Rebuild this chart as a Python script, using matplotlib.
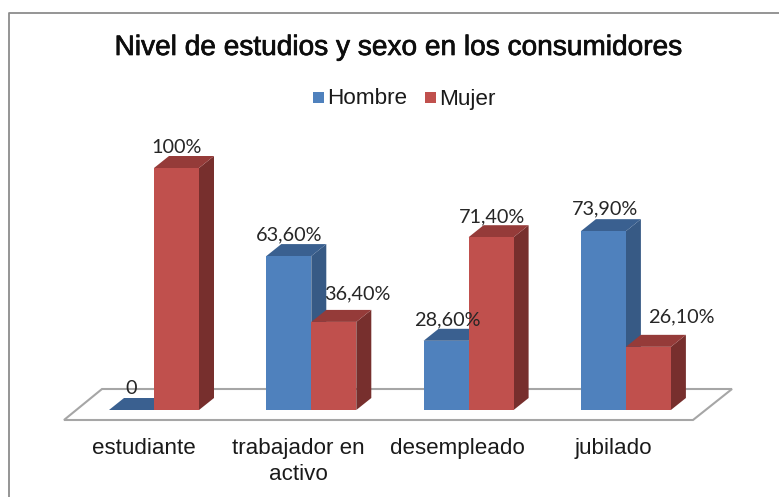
import matplotlib
matplotlib.use('Agg')
import matplotlib.pyplot as plt
import matplotlib.patheffects as pe
from matplotlib.patches import Polygon, Rectangle

# Values
categories = ['estudiante', 'trabajador en\nactivo', 'desempleado', 'jubilado']
hombre = [0, 63.6, 28.6, 73.9]
mujer = [100, 36.4, 71.4, 26.1]
hombre_labels = ['0', '63,60%', '28,60%', '73,90%']
mujer_labels = ['100%', '36,40%', '71,40%', '26,10%']
title = 'Nivel de estudios y sexo en los consumidores'

W, H = 779, 497
PX_X = 157.3   # pixels per category
PX_Y = 2.42    # pixels per percent
X0, Y0 = 154, 410

fig = plt.figure(figsize=(W / 100, H / 100), dpi=100)
ax = fig.add_axes([0, 0, 1, 1])
ax.set_xlim(-X0 / PX_X, (W - X0) / PX_X)
ax.set_ylim((Y0 - H) / PX_Y, Y0 / PX_Y)
ax.axis('off')

# helpers to go from pixel offsets to data units
def dx(px):
    return px / PX_X

def dy(px):
    return px / PX_Y

bar_w = dx(45)
depth_x = dx(15)
depth_y = dy(12)

# chart border, only left and top are inside the picture
fig.add_artist(plt.Line2D([8.5 / W, 8.5 / W, 1], [0, 1 - 12.5 / H, 1 - 12.5 / H],
                          color='#8c8c8c', lw=1.3))

# floor
floor = Polygon([(-X0 / PX_X + dx(64), dy(-10)), (-X0 / PX_X + dx(102), dy(21)),
                 (-X0 / PX_X + dx(732), dy(21)), (-X0 / PX_X + dx(693), dy(-10))],
                closed=True, fc='white', ec='#a6a6a6', lw=1.5, zorder=1)
ax.add_patch(floor)


def bar3d(x, val, front, top, side, z):
    ax.add_patch(Polygon([(x + bar_w, 0), (x + bar_w + depth_x, depth_y),
                          (x + bar_w + depth_x, val + depth_y), (x + bar_w, val)],
                         closed=True, fc=side, ec='none', zorder=z))
    ax.add_patch(Polygon([(x, val), (x + depth_x, val + depth_y),
                          (x + bar_w + depth_x, val + depth_y), (x + bar_w, val)],
                         closed=True, fc=top, ec='none', zorder=z))
    ax.add_patch(Rectangle((x, 0), bar_w, val, fc=front, ec='none', zorder=z + 0.1))


for i in range(len(categories)):
    bar3d(i - bar_w, hombre[i], '#4f81bd', '#3a6090', '#375a85', 2 + i)
    bar3d(i, mujer[i], '#c0504d', '#953b39', '#772f2d', 2.5 + i)

label_font = ['Lato', 'DejaVu Sans']
lab_kw = dict(fontsize=14.3, color='#262626', family=label_font, ha='center',
              va='bottom', zorder=10)
hombre_off = [(-23, 13), (-22, 13), (-21, 12), (-21, 14)]
mujer_off = [(23, 12), (46, 20), (23, 12), (55, 21)]
for i in range(len(categories)):
    ax.text(i + dx(hombre_off[i][0]), hombre[i] + dy(hombre_off[i][1]), hombre_labels[i], **lab_kw)
    ax.text(i + dx(mujer_off[i][0]), mujer[i] + dy(mujer_off[i][1]), mujer_labels[i], **lab_kw)

# category labels
cat_off = [-10, -13, -11, -13]
for i, c in enumerate(categories):
    ax.text(i + dx(cat_off[i]), dy(-28), c, fontsize=16.1, color='#1a1a1a',
            family='Liberation Sans', ha='center', va='top', linespacing=1.3, zorder=10)

# title
fig.text(398 / W, 1 - 48 / H, title, fontsize=20.2, color='#0d0d0d',
         family='Liberation Sans', ha='center', va='center',
         path_effects=[pe.withStroke(linewidth=0.5, foreground='#0d0d0d')])

# legend
fig.add_artist(Rectangle((313 / W, 1 - 103 / H), 11 / W, 11 / H, fc='#4f81bd', ec='none',
                         transform=fig.transFigure))
fig.add_artist(Rectangle((425 / W, 1 - 103 / H), 11 / W, 11 / H, fc='#c0504d', ec='none',
                         transform=fig.transFigure))
fig.text(327.5 / W, 1 - 99 / H, 'Hombre', fontsize=16.2, color='#1a1a1a',
         family='Liberation Sans', ha='left', va='center')
fig.text(439 / W, 1 - 99 / H, 'Mujer', fontsize=16.2, color='#1a1a1a',
         family='Liberation Sans', ha='left', va='center')

fig.savefig('out.png', dpi=100)
